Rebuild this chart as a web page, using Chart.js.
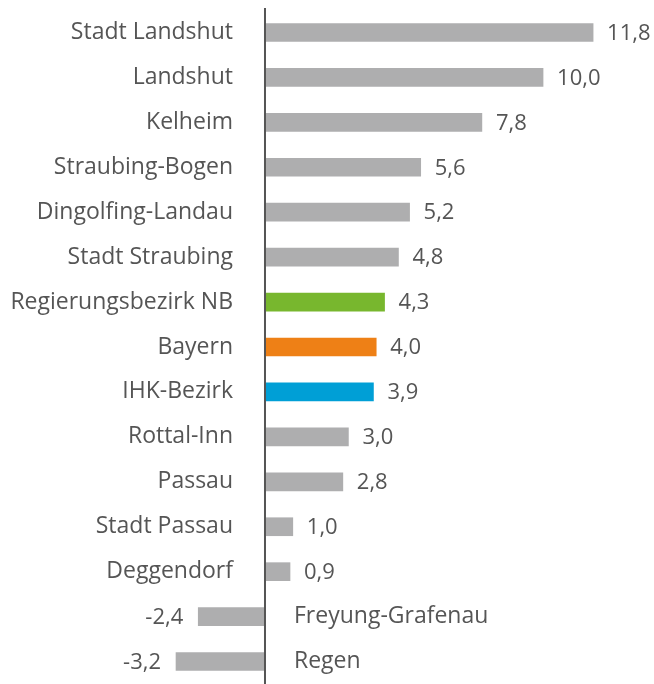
<!DOCTYPE html>
<html>
<head>
<meta charset="utf-8">
<script src="https://cdn.jsdelivr.net/npm/chart.js@4/dist/chart.umd.min.js"></script>
<style>
  html, body { margin: 0; padding: 0; background: #fff; }
  #wrap { width: 654px; height: 684px; position: relative; }
</style>
</head>
<body>
<div id="wrap"><canvas id="c"></canvas></div>
<script>
const categories = ["Stadt Landshut", "Landshut", "Kelheim", "Straubing-Bogen", "Dingolfing-Landau", "Stadt Straubing", "Regierungsbezirk NB", "Bayern", "IHK-Bezirk", "Rottal-Inn", "Passau", "Stadt Passau", "Deggendorf", "Freyung-Grafenau", "Regen"];
const values = [11.8, 10.0, 7.8, 5.6, 5.2, 4.8, 4.3, 4.0, 3.9, 3.0, 2.8, 1.0, 0.9, -2.4, -3.2];

const GRAY = "#aeaeaf";
const highlight = { "Regierungsbezirk NB": "#78b72e", "Bayern": "#ee8016", "IHK-Bezirk": "#009fd6" };
const TEXT = "#555555";
const FONT = "'Open Sans', sans-serif";

const labelPlugin = {
  id: "labels",
  afterDatasetsDraw(chart) {
    const ctx = chart.ctx;
    const xs = chart.scales.x;
    const x0 = xs.getPixelForValue(0);
    ctx.save();
    ctx.strokeStyle = "#555555";
    ctx.lineWidth = 2;
    ctx.beginPath();
    ctx.moveTo(x0, 8);
    ctx.lineTo(x0, chart.height);
    ctx.stroke();
    ctx.fillStyle = TEXT;
    ctx.textBaseline = "middle";
    const meta = chart.getDatasetMeta(0);
    meta.data.forEach((bar, i) => {
      const v = values[i];
      const y = bar.y;
      const txt = v.toFixed(1).replace(".", ",");
      ctx.font = "22px " + FONT;
      if (v >= 0) {
        ctx.textAlign = "left";
        ctx.fillText(txt, bar.x + 14, y + 1);
        ctx.font = "23px " + FONT;
        ctx.textAlign = "right";
        ctx.fillText(categories[i], x0 - 32, y);
      } else {
        ctx.textAlign = "right";
        ctx.fillText(txt, bar.x - 15, y + 1);
        ctx.font = "23px " + FONT;
        ctx.textAlign = "left";
        ctx.fillText(categories[i], x0 + 29, y);
      }
    });
    ctx.restore();
  }
};

new Chart(document.getElementById("c"), {
  type: "bar",
  data: {
    labels: categories,
    datasets: [{
      data: values,
      backgroundColor: categories.map(c => highlight[c] || GRAY),
      barThickness: 18,
      borderWidth: 0
    }]
  },
  options: {
    indexAxis: "y",
    responsive: true,
    maintainAspectRatio: false,
    animation: false,
    layout: { padding: { top: 10, bottom: 0, left: 0, right: 0 } },
    plugins: { legend: { display: false }, tooltip: { enabled: false } },
    scales: {
      x: { display: false, min: -9.53, max: 13.99 },
      y: { display: false }
    }
  },
  plugins: [labelPlugin]
});
</script>
</body>
</html>
